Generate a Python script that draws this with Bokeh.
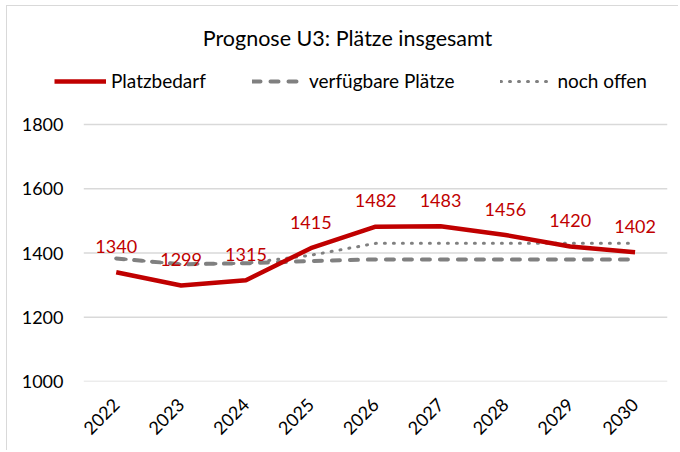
import math
from bokeh.plotting import figure
from bokeh.models import (ColumnDataSource, Legend, LegendItem, Label,
                          FixedTicker, Range1d)
from bokeh.core.properties import value
from bokeh.embed import file_html
from bokeh.resources import INLINE

years = ["2022", "2023", "2024", "2025", "2026", "2027", "2028", "2029", "2030"]
platzbedarf = [1340, 1299, 1315, 1415, 1482, 1483, 1456, 1420, 1402]
verfuegbar = [1383, 1365, 1368, 1375, 1380, 1380, 1380, 1380, 1380]
noch_offen = [1383, 1365, 1368, 1393, 1430, 1430, 1430, 1430, 1430]
y_ticks = [1000, 1200, 1400, 1600, 1800]

FONT = "Lato"
RED = "#C00000"
GRAY = "#808080"

xs = list(range(len(years)))
src = ColumnDataSource(dict(
    x=xs, bedarf=platzbedarf, verf=verfuegbar, offen=noch_offen,
    lab=[str(v) for v in platzbedarf],
))

# canvas origin on the page (chart-area border sits just outside it)
OX, OY = 7, 6
W, H = 672, 445
# page-space targets
P_FRAME_LEFT = 40
P_GRID_LEFT, P_GRID_RIGHT = 83.3, 667.0
P_Y1000, P_Y1800 = 381.0, 124.0

LEFT = P_FRAME_LEFT - OX
TOP = 2
BOTTOM = int(round(H - (P_Y1000 - OY)))
RIGHT = int(round(W - (P_GRID_RIGHT - OX)))
band = (P_GRID_RIGHT - P_GRID_LEFT) / len(years)
x_start = -0.5 - (P_GRID_LEFT - P_FRAME_LEFT) / band
px_per_unit = (P_Y1000 - P_Y1800) / (y_ticks[-1] - y_ticks[0])
y_end = y_ticks[0] + (H - BOTTOM - TOP) / px_per_unit

p = figure(x_range=Range1d(x_start, len(years) - 0.5),
           y_range=Range1d(y_ticks[0], y_end),
           width=W, height=H, output_backend="svg", toolbar_location=None,
           min_border_left=LEFT, min_border_right=RIGHT,
           min_border_top=TOP, min_border_bottom=BOTTOM)
p.styles = {"margin-left": f"{OX - 1}px", "margin-top": f"{OY - 1}px",
            "border-left": "1px solid #D9D9D9",
            "border-top": "1px solid #D9D9D9"}
p.outline_line_color = None
p.background_fill_color = "white"
p.border_fill_color = "white"
p.xgrid.grid_line_color = None
p.ygrid.grid_line_color = None

# horizontal gridlines over the category span
p.segment(x0=[-0.5] * len(y_ticks), x1=[len(years) - 0.5] * len(y_ticks),
          y0=y_ticks, y1=y_ticks, line_color="#D9D9D9", line_width=1.3)

r_verf = p.line("x", "verf", source=src, line_color=GRAY, line_width=4,
                line_dash="8 10", line_cap="round")
r_offen = p.line("x", "offen", source=src, line_color=GRAY, line_width=3,
                 line_dash="1 8", line_cap="round")
r_bed = p.line("x", "bedarf", source=src, line_color=RED, line_width=4.5)

p.text("x", "bedarf", text="lab", source=src, text_color=RED,
       text_font=value(FONT), text_font_size="18px", text_align="center",
       text_baseline="middle", y_offset=-26)

p.yaxis.ticker = FixedTicker(ticks=y_ticks)
p.yaxis.axis_line_color = None
p.yaxis.major_tick_line_color = None
p.yaxis.minor_tick_line_color = None
p.yaxis.major_tick_out = 0
p.yaxis.major_tick_in = 0
p.yaxis.major_label_standoff = P_FRAME_LEFT - 63
p.yaxis.major_label_text_font = FONT
p.yaxis.major_label_text_font_size = "18px"
p.yaxis.major_label_text_color = "#000000"

p.xaxis.ticker = FixedTicker(ticks=xs)
p.xaxis.major_label_overrides = {i: y for i, y in zip(xs, years)}
p.xaxis.axis_line_color = None
p.xaxis.major_tick_line_color = None
p.xaxis.minor_tick_line_color = None
p.xaxis.major_tick_out = 0
p.xaxis.major_tick_in = 0
p.xaxis.major_label_orientation = math.pi / 4
p.xaxis.major_label_standoff = 20
p.xaxis.major_label_text_font = FONT
p.xaxis.major_label_text_font_size = "18px"
p.xaxis.major_label_text_color = "#000000"

frame_bottom_page = OY + H - BOTTOM
title = Label(x=347 - P_FRAME_LEFT, y=frame_bottom_page - 37,
              x_units="screen", y_units="screen",
              text="Prognose U3: Plätze insgesamt",
              text_font=FONT, text_font_size="21.5px", text_align="center",
              text_baseline="middle", text_color="#000000")
p.add_layout(title)

legend = Legend(items=[
    LegendItem(label="Platzbedarf", renderers=[r_bed]),
    LegendItem(label="verfügbare Plätze", renderers=[r_verf]),
    LegendItem(label="noch offen", renderers=[r_offen]),
], orientation="horizontal",
   location=(54 - P_FRAME_LEFT, frame_bottom_page - 92))
legend.border_line_color = None
legend.background_fill_alpha = 0
legend.padding = 0
legend.margin = 0
legend.glyph_width = 52
legend.glyph_height = 20
legend.label_height = 20
legend.label_standoff = 5
legend.spacing = 46
legend.label_text_font = FONT
legend.label_text_font_size = "19px"
legend.label_text_color = "#000000"
p.add_layout(legend)

open("out.html", "w").write(file_html(p, INLINE))
